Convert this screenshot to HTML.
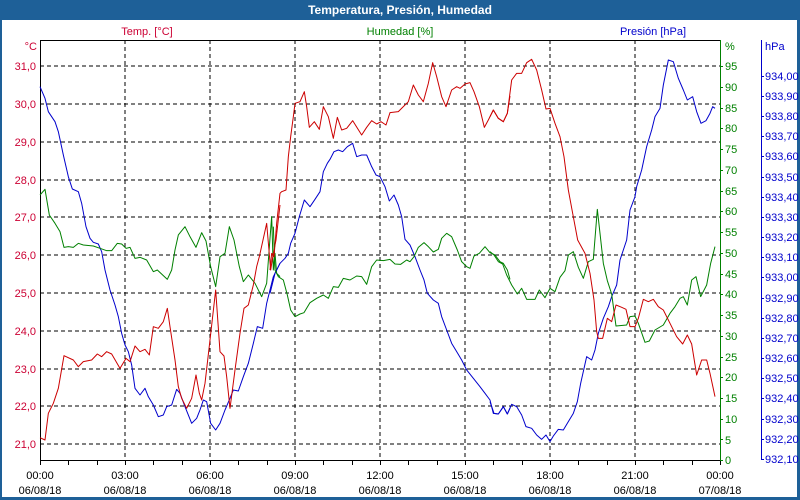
<!DOCTYPE html>
<html><head><meta charset="utf-8"><style>
body{margin:0;background:#fff}
svg{display:block;font-family:"Liberation Sans",Tahoma,sans-serif}
</style></head><body>
<svg width="800" height="500" viewBox="0 0 800 500" xmlns="http://www.w3.org/2000/svg">
<rect x="0" y="0" width="800" height="500" fill="#1e6098"/>
<rect x="2" y="20" width="795" height="477" fill="#fff"/>
<text x="400" y="14" fill="#fff" font-size="12" font-weight="bold" text-anchor="middle">Temperatura, Presión, Humedad</text>
<g font-size="11">
<text x="147" y="35" fill="#cc0033" text-anchor="middle">Temp. [°C]</text>
<text x="400" y="35" fill="#008000" text-anchor="middle">Humedad [%]</text>
<text x="653" y="35" fill="#0000cc" text-anchor="middle">Presión [hPa]</text>
<text x="37" y="50" fill="#cc0033" text-anchor="end">°C</text>
<text x="725" y="50" fill="#008000">%</text>
<text x="765" y="50" fill="#0000cc">hPa</text>
</g>
<!-- grid -->
<g stroke="#000" stroke-width="1" stroke-dasharray="4,3" shape-rendering="crispEdges">
<line x1="125" y1="40" x2="125" y2="460"/><line x1="210" y1="40" x2="210" y2="460"/>
<line x1="295" y1="40" x2="295" y2="460"/><line x1="380" y1="40" x2="380" y2="460"/>
<line x1="465" y1="40" x2="465" y2="460"/><line x1="550" y1="40" x2="550" y2="460"/>
<line x1="635" y1="40" x2="635" y2="460"/>
<line x1="40" y1="66" x2="720" y2="66"/><line x1="40" y1="104" x2="720" y2="104"/>
<line x1="40" y1="142" x2="720" y2="142"/><line x1="40" y1="180" x2="720" y2="180"/>
<line x1="40" y1="217" x2="720" y2="217"/><line x1="40" y1="255" x2="720" y2="255"/>
<line x1="40" y1="293" x2="720" y2="293"/><line x1="40" y1="331" x2="720" y2="331"/>
<line x1="40" y1="369" x2="720" y2="369"/><line x1="40" y1="406" x2="720" y2="406"/>
<line x1="40" y1="444" x2="720" y2="444"/>
</g>
<g shape-rendering="crispEdges">
<line x1="40" y1="40.5" x2="720" y2="40.5" stroke="#000"/>
<line x1="40.5" y1="40" x2="40.5" y2="465" stroke="#000"/>
<line x1="40" y1="460.5" x2="720" y2="460.5" stroke="#000"/>
<line x1="720.5" y1="40" x2="720.5" y2="461" stroke="#008000"/>
<line x1="761.5" y1="40" x2="761.5" y2="460" stroke="#0000cc"/>
</g>
<!-- bottom ticks -->
<g stroke="#000" shape-rendering="crispEdges">
<path d="M68.5 460v5M97.5 460v5M125.5 460v5M153.5 460v5M182.5 460v5M210.5 460v5M238.5 460v5M267.5 460v5M295.5 460v5M323.5 460v5M352.5 460v5M380.5 460v5M408.5 460v5M437.5 460v5M465.5 460v5M493.5 460v5M522.5 460v5M550.5 460v5M578.5 460v5M607.5 460v5M635.5 460v5M663.5 460v5M692.5 460v5M720.5 460v5"/>
</g>
<g font-size="11" fill="#000" text-anchor="middle">
<text x="40" y="479">00:00</text><text x="40" y="494">06/08/18</text>
<text x="125" y="479">03:00</text><text x="125" y="494">06/08/18</text>
<text x="210" y="479">06:00</text><text x="210" y="494">06/08/18</text>
<text x="295" y="479">09:00</text><text x="295" y="494">06/08/18</text>
<text x="380" y="479">12:00</text><text x="380" y="494">06/08/18</text>
<text x="465" y="479">15:00</text><text x="465" y="494">06/08/18</text>
<text x="550" y="479">18:00</text><text x="550" y="494">06/08/18</text>
<text x="635" y="479">21:00</text><text x="635" y="494">06/08/18</text>
<text x="720" y="479">00:00</text><text x="720" y="494">07/08/18</text>
</g>
<!-- temp labels -->
<g font-size="11" fill="#cc0033" text-anchor="end">
<text x="36" y="70">31,0</text><text x="36" y="108">30,0</text><text x="36" y="146">29,0</text>
<text x="36" y="184">28,0</text><text x="36" y="221">27,0</text><text x="36" y="259">26,0</text>
<text x="36" y="297">25,0</text><text x="36" y="335">24,0</text><text x="36" y="373">23,0</text>
<text x="36" y="410">22,0</text><text x="36" y="448">21,0</text>
</g>
<!-- humidity labels -->
<g font-size="11" fill="#008000">
<text x="725" y="464">0</text><text x="725" y="444">5</text><text x="725" y="423">10</text>
<text x="725" y="402">15</text><text x="725" y="381">20</text><text x="725" y="361">25</text>
<text x="725" y="340">30</text><text x="725" y="319">35</text><text x="725" y="298">40</text>
<text x="725" y="278">45</text><text x="725" y="257">50</text><text x="725" y="236">55</text>
<text x="725" y="215">60</text><text x="725" y="195">65</text><text x="725" y="174">70</text>
<text x="725" y="153">75</text><text x="725" y="132">80</text><text x="725" y="112">85</text>
<text x="725" y="91">90</text><text x="725" y="70">95</text>
</g>
<g stroke="#008000" shape-rendering="crispEdges">
<path d="M720 460.5h3M720 439.5h3M720 419.5h3M720 398.5h3M720 377.5h3M720 357.5h3M720 336.5h3M720 315.5h3M720 294.5h3M720 274.5h3M720 253.5h3M720 232.5h3M720 211.5h3M720 191.5h3M720 170.5h3M720 149.5h3M720 128.5h3M720 108.5h3M720 87.5h3M720 66.5h3"/>
</g>
<!-- pressure labels -->
<g font-size="11" fill="#0000cc">
<text x="765" y="80">934,00</text><text x="765" y="100">933,90</text><text x="765" y="120">933,80</text>
<text x="765" y="140">933,70</text><text x="765" y="160">933,60</text><text x="765" y="181">933,50</text>
<text x="765" y="201">933,40</text><text x="765" y="221">933,30</text><text x="765" y="241">933,20</text>
<text x="765" y="261">933,10</text><text x="765" y="281">933,00</text><text x="765" y="302">932,90</text>
<text x="765" y="322">932,80</text><text x="765" y="342">932,70</text><text x="765" y="362">932,60</text>
<text x="765" y="382">932,50</text><text x="765" y="402">932,40</text><text x="765" y="423">932,30</text>
<text x="765" y="443">932,20</text><text x="765" y="463">932,10</text>
</g>
<g stroke="#0000cc" shape-rendering="crispEdges">
<path d="M761 76.5h3M761 96.5h3M761 116.5h3M761 136.5h3M761 156.5h3M761 177.5h3M761 197.5h3M761 217.5h3M761 237.5h3M761 257.5h3M761 277.5h3M761 298.5h3M761 318.5h3M761 338.5h3M761 358.5h3M761 378.5h3M761 398.5h3M761 419.5h3M761 439.5h3M761 459.5h3"/>
</g>
<!-- series -->
<g fill="none" stroke-width="3" stroke-linejoin="round">
<g transform="translate(40 40) scale(0.33333)">
<polyline stroke="#0000cc" points="0,140 15,175 25,215 45,245 55,275 70,345 85,410 97,447 115,455 125,490 138,560 150,595 160,607 175,612 185,635 195,690 210,750 225,795 235,830 245,880 255,915 265,935 275,975 285,1045 300,1065 315,1045 325,1070 340,1095 355,1130 370,1125 380,1100 395,1095 410,1048 420,1060 435,1100 455,1150 470,1135 480,1110 490,1080 500,1085 512,1150 527,1170 540,1150 555,1110 570,1075 580,1050 595,1053 610,1010 625,970 640,910 652,860 668,865 680,790 700,710 720,670"/>
<polyline stroke="#008000" points="0,465 15,448 28,525 45,550 60,575 72,622 85,620 100,622 115,610 130,615 160,618 180,625 200,632 215,632 232,610 245,612 258,625 270,622 285,655 300,652 320,660 340,695 352,690 382,718 395,690 405,630 415,585 435,560 450,590 468,622 485,578 498,603 512,680 527,740 540,650 555,640 568,560 582,600 598,680 610,725 625,705 645,730 665,770 680,730 690,595 695,530 700,690 705,640 710,700 720,710"/>
<polyline stroke="#cc0000" points="0,1193 15,1200 25,1120 40,1090 55,1045 72,947 100,960 115,980 130,965 155,960 172,942 185,950 200,935 215,942 240,985 258,955 270,965 285,918 300,935 315,928 328,945 340,860 355,865 370,845 382,805 390,860 405,960 415,1040 425,1075 440,1105 455,1075 468,1005 478,1060 485,1080 495,1030 510,900 527,750 540,935 552,948 560,1010 570,1105 585,990 600,880 612,805 625,795 640,735 650,680 658,650 680,550 692,690 700,640 708,600 720,495"/>
</g>
<g transform="translate(270 40) scale(0.33333)">
<polyline stroke="#0000cc" points="0,760 15,700 30,670 45,655 55,640 62,610 75,580 88,530 103,480 120,500 135,478 150,455 160,395 172,370 180,358 192,335 205,330 218,335 232,320 248,310 260,350 275,345 290,345 305,380 318,405 330,410 345,440 358,483 372,465 385,495 395,530 405,598 420,615 435,650 450,690 462,720 472,760 490,780 505,790 515,830 530,870 545,910 560,935 575,960 590,990 610,1015 630,1040 645,1060 660,1080 670,1120 685,1122 700,1100 712,1122 720,1105"/>
<polyline stroke="#008000" points="10,560 15,690 25,710 40,720 52,765 62,810 75,830 90,822 102,818 120,788 140,775 160,765 175,775 190,740 205,742 220,715 240,720 260,708 275,710 290,733 305,680 320,660 340,662 360,658 375,672 392,673 410,660 420,665 432,650 445,622 462,608 475,620 490,636 505,628 515,595 530,580 545,590 562,630 575,665 590,680 600,685 612,648 628,640 645,620 660,638 675,645 690,665 700,670 712,690 720,718"/>
<polyline stroke="#cc0000" points="0,690 5,640 12,650 20,550 30,460 35,455 48,450 55,350 62,290 70,230 75,190 90,185 103,155 110,200 118,262 133,245 148,268 160,200 175,230 190,295 202,232 215,270 230,265 248,242 275,285 290,262 305,242 320,252 333,245 348,255 360,218 385,215 400,200 415,185 430,135 445,165 460,185 475,130 488,68 500,110 515,170 528,200 545,150 560,140 570,145 585,132 600,128 612,155 628,200 643,262 655,240 670,210 685,235 700,245 712,220 720,168"/>
</g>
<g transform="translate(490 40) scale(0.33333)">
<polyline stroke="#0000cc" points="0,1085 12,1120 25,1122 40,1100 52,1122 65,1093 80,1100 95,1125 108,1160 125,1165 140,1185 155,1198 168,1185 180,1205 190,1188 205,1168 220,1170 235,1145 250,1120 262,1085 272,1030 290,950 305,960 315,930 325,880 340,835 355,800 365,770 380,735 390,660 400,630 410,600 420,510 435,470 440,440 455,390 470,320 485,270 495,230 510,205 520,135 535,60 550,65 565,115 580,150 592,180 608,170 620,215 633,250 648,242 660,220 668,200 675,205"/>
<polyline stroke="#008000" points="0,635 12,645 25,665 38,672 50,705 65,735 82,762 95,745 110,778 135,778 148,750 165,773 180,745 195,755 210,712 225,692 235,645 250,635 265,682 280,715 295,665 310,658 322,508 330,580 340,670 352,722 365,762 378,858 410,855 420,830 435,828 445,850 465,907 478,903 495,870 520,855 540,820 555,800 570,775 580,770 592,795 605,720 618,710 632,770 650,735 662,670 675,620"/>
<polyline stroke="#cc0000" points="0,230 10,210 25,235 40,245 52,220 65,120 80,100 95,100 110,68 125,58 140,90 155,150 168,207 180,205 195,250 210,290 222,350 235,450 248,520 263,600 285,640 300,700 312,780 320,875 325,895 338,895 352,835 365,845 378,795 395,802 408,808 420,860 435,860 445,835 460,778 475,785 490,778 505,800 520,810 540,850 560,890 578,912 592,885 605,912 620,1005 635,960 650,960 660,1000 675,1070"/>
</g>
</g>
</svg>
</body></html>
